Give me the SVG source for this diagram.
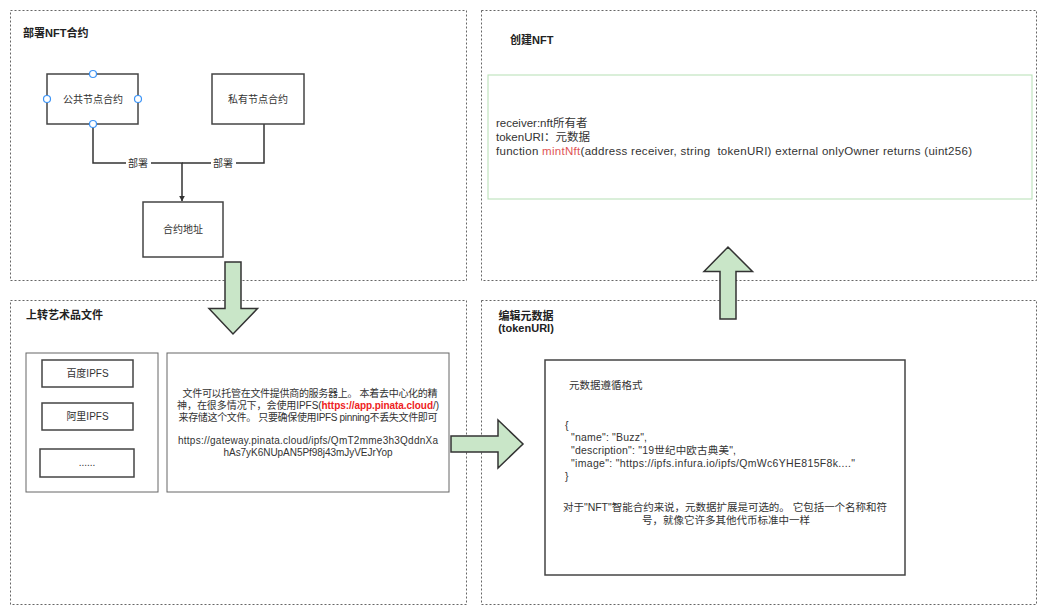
<svg xmlns="http://www.w3.org/2000/svg" width="1046" height="610" viewBox="0 0 1046 610">
<style>
.panel{fill:none;stroke:#666;stroke-width:1;stroke-dasharray:2 2}
.box{fill:#fff;stroke:#444;stroke-width:1.5}
.tbox{fill:#fff;stroke:#666;stroke-width:1}
.t{font-family:"Liberation Sans","Noto Sans CJK SC",sans-serif;fill:#333}
.title{font-size:11px;font-weight:bold;fill:#222}
.s10{font-size:10px}
.s105{font-size:10.5px}
.s11{font-size:11.5px}
.mid{text-anchor:middle}
.blk{fill:#c9e6c8;stroke:#333;stroke-width:1.5;stroke-linejoin:miter}
.conn{fill:none;stroke:#333;stroke-width:1.5}
.handle{fill:#fff;stroke:#3d94f6;stroke-width:1.2}
</style>
<defs>
<marker id="arr" viewBox="0 0 10 10" refX="9" refY="5" markerWidth="6" markerHeight="6" markerUnits="userSpaceOnUse" orient="auto">
<path d="M0,0 L10,5 L0,10 z" fill="#333"/>
</marker>
</defs>
<rect width="1046" height="610" fill="#fff"/>

<g id="panel-deploy">
<rect class="panel" x="10.5" y="10.5" width="456" height="270"/>
<text class="t title" x="23" y="37">部署NFT合约</text>
</g>
<g id="panel-create">
<rect class="panel" x="481.5" y="10.5" width="555" height="270"/>
<text class="t title" x="510" y="44">创建NFT</text>
</g>
<g id="panel-upload">
<rect class="panel" x="10.5" y="300.5" width="456" height="304"/>
<text class="t title" x="26" y="319">上转艺术品文件</text>
</g>
<g id="panel-meta">
<rect class="panel" x="481.5" y="300.5" width="555" height="304"/>
<text class="t title mid" x="526" y="320">编辑元数据</text>
<text class="t title mid" x="526" y="332">(tokenURI)</text>
</g>

<g id="connectors">
<path class="conn" d="M93,124 V163 H182 V201" marker-end="url(#arr)"/>
<path class="conn" d="M264,124 V163 H182"/>
<rect x="126" y="156" width="25" height="14" fill="#fff"/>
<text class="t s10 mid" x="138" y="167">部署</text>
<rect x="211" y="156" width="25" height="14" fill="#fff"/>
<text class="t s10 mid" x="223" y="167">部署</text>
<path id="arrow-down" class="blk" d="M225,262 H241 V308.5 H257.5 L233,334 L209,308.5 H225 Z"/>
<path id="arrow-right" class="blk" d="M451,436 H498 V420 L523,444 L498,468 V452 H451 Z"/>
<path id="arrow-up" class="blk" d="M720,319 V271.5 H704 L728,247 L752.5,271.5 H736 V319 Z"/>
</g>

<g id="node-public">
<rect class="box" x="47" y="74" width="91" height="50"/>
<text class="t s10 mid" x="93" y="103">公共节点合约</text>
<circle class="handle" cx="93" cy="74" r="3.5"/>
<circle class="handle" cx="47" cy="99" r="3.5"/>
<circle class="handle" cx="138" cy="99" r="3.5"/>
<circle class="handle" cx="93" cy="124" r="3.5"/>
</g>
<g id="node-private">
<rect class="box" x="212" y="74" width="92" height="50"/>
<text class="t s10 mid" x="258" y="103">私有节点合约</text>
</g>
<g id="node-address">
<rect class="box" x="143" y="202" width="80" height="55"/>
<text class="t s10 mid" x="183" y="233">合约地址</text>
</g>

<g id="node-mint">
<rect x="488" y="75" width="544" height="124" fill="#fff" stroke="#b5dfb4" stroke-width="1"/>
<text class="t s11" x="496" y="127">receiver:nft所有者</text>
<text class="t s11" x="496" y="141">tokenURI：元数据</text>
<text class="t s11" x="496" y="155" xml:space="preserve" textLength="476">function <tspan fill="#e05555">mintNft</tspan>(address receiver, string  tokenURI) external onlyOwner returns (uint256)</text>
</g>

<g id="node-ipfs-list">
<rect class="tbox" x="26" y="353" width="132" height="139"/>
</g>
<g id="node-baidu">
<rect class="box" x="42" y="360" width="91" height="27"/>
<text class="t s10 mid" x="87.5" y="377">百度IPFS</text>
</g>
<g id="node-ali">
<rect class="box" x="42" y="403" width="91" height="27"/>
<text class="t s10 mid" x="87.5" y="420">阿里IPFS</text>
</g>
<g id="node-more">
<rect class="box" x="40" y="449" width="94" height="28"/>
<text class="t s10 mid" x="87" y="466">......</text>
</g>

<g id="node-file-desc">
<rect class="tbox" x="167" y="353" width="282" height="139"/>
<text class="t s10 mid" x="310" y="397" textLength="255">文件可以托管在文件提供商的服务器上。 本着去中心化的精</text>
<text class="t s10 mid" x="308" y="409" textLength="262">神，在很多情况下，会使用IPFS(<tspan fill="#ee2222" font-weight="bold">https://app.pinata.cloud</tspan>/)</text>
<text class="t s10 mid" x="308" y="421" textLength="259">来存储这个文件。 只要确保使用IPFS pinning不丢失文件即可</text>
<text class="t s10 mid" x="308" y="444" textLength="260">https://gateway.pinata.cloud/ipfs/QmT2mme3h3QddnXa</text>
<text class="t s10 mid" x="308" y="456" textLength="169">hAs7yK6NUpAN5Pf98j43mJyVEJrYop</text>
</g>

<g id="node-metadata">
<rect class="box" x="545" y="360" width="360" height="215"/>
<text class="t s105" x="569" y="389">元数据遵循格式</text>
<text class="t s105" x="565" y="429">{</text>
<text class="t s105" x="571" y="441" textLength="76">"name": "Buzz",</text>
<text class="t s105" x="571" y="454" textLength="165">"description": "19世纪中欧古典美",</text>
<text class="t s105" x="571" y="467" textLength="284">"image": "https://ipfs.infura.io/ipfs/QmWc6YHE815F8k...."</text>
<text class="t s105" x="565" y="480">}</text>
<text class="t s105 mid" x="725" y="511" textLength="324">对于"NFT"智能合约来说，元数据扩展是可选的。 它包括一个名称和符</text>
<text class="t s105 mid" x="726" y="524">号，就像它许多其他代币标准中一样</text>
</g>
</svg>
